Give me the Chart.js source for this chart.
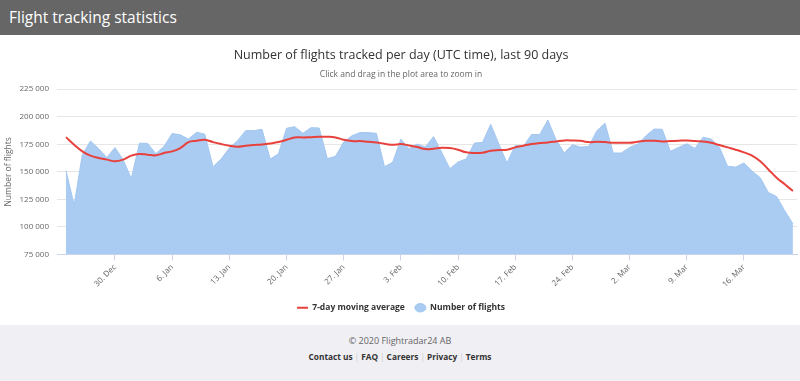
<!DOCTYPE html>
<html>
<head>
<meta charset="utf-8">
<script src="https://cdn.jsdelivr.net/npm/chart.js@4"></script>
<style>
  html, body { margin: 0; padding: 0; background: #fff; font-family: "Open Sans", sans-serif; }
  .header { height: 35px; background: #666666; color: #fff; font-size: 15.5px; line-height: 34px; padding-left: 9px; box-sizing: border-box; }
  .chart-wrap { width: 800px; height: 290px; }
  .footer { height: 56px; background: #f0eff4; text-align: center; font-size: 9px; }
  .footer .copy { color: #666; padding-top: 9px; line-height: 13px; }
  .footer .links { color: #333; font-weight: bold; font-size: 8.3px; line-height: 13px; margin-top: 3px; }
  .footer .sep { color: #ccc; font-weight: normal; margin: 0 2px; }
</style>
</head>
<body>
<div class="header">Flight tracking statistics</div>
<div class="chart-wrap"><canvas id="flights" width="800" height="290"></canvas></div>
<div class="footer">
  <div class="copy">© 2020 Flightradar24 AB</div>
  <div class="links">Contact us<span class="sep">|</span>FAQ<span class="sep">|</span>Careers<span class="sep">|</span>Privacy<span class="sep">|</span>Terms</div>
</div>
<script>
// 90 days, 24. Dec .. 22. Mar (UTC)
const dates = [
  '24. Dec', '25. Dec', '26. Dec', '27. Dec', '28. Dec', '29. Dec', '30. Dec', '31. Dec',
  '1. Jan', '2. Jan', '3. Jan', '4. Jan', '5. Jan', '6. Jan', '7. Jan', '8. Jan', '9. Jan', '10. Jan',
  '11. Jan', '12. Jan', '13. Jan', '14. Jan', '15. Jan', '16. Jan', '17. Jan', '18. Jan', '19. Jan', '20. Jan',
  '21. Jan', '22. Jan', '23. Jan', '24. Jan', '25. Jan', '26. Jan', '27. Jan', '28. Jan', '29. Jan', '30. Jan', '31. Jan',
  '1. Feb', '2. Feb', '3. Feb', '4. Feb', '5. Feb', '6. Feb', '7. Feb', '8. Feb', '9. Feb', '10. Feb',
  '11. Feb', '12. Feb', '13. Feb', '14. Feb', '15. Feb', '16. Feb', '17. Feb', '18. Feb', '19. Feb', '20. Feb',
  '21. Feb', '22. Feb', '23. Feb', '24. Feb', '25. Feb', '26. Feb', '27. Feb', '28. Feb', '29. Feb',
  '1. Mar', '2. Mar', '3. Mar', '4. Mar', '5. Mar', '6. Mar', '7. Mar', '8. Mar', '9. Mar', '10. Mar',
  '11. Mar', '12. Mar', '13. Mar', '14. Mar', '15. Mar', '16. Mar', '17. Mar', '18. Mar', '19. Mar', '20. Mar',
  '21. Mar', '22. Mar'
];

// labelled days on the x axis (Mondays)
const tickDays = ['30. Dec', '6. Jan', '13. Jan', '20. Jan', '27. Jan', '3. Feb', '10. Feb',
  '17. Feb', '24. Feb', '2. Mar', '9. Mar', '16. Mar'];

const flights = [
  151000, 120000, 165600, 178000, 171000, 163000, 172000, 161000, 144000, 176000,
  175800, 166500, 173100, 184800, 183600, 179700, 186000, 184200, 154600, 161700,
  171600, 178200, 187400, 187400, 188600, 161700, 166200, 189500, 191000, 185000,
  190100, 189800, 162000, 164100, 177000, 182700, 185600, 185600, 185000, 154600,
  158700, 179700, 171000, 175200, 172500, 182000, 167700, 152800, 159000, 161700,
  176100, 176700, 193100, 175200, 158100, 174000, 173100, 183900, 183900, 197000,
  179100, 167100, 174600, 172500, 173100, 187400, 194000, 167100, 167100, 172200,
  175200, 182700, 188900, 188600, 168600, 172200, 175500, 171300, 181500, 179700,
  172500, 155100, 154300, 158100, 150700, 144700, 131200, 127600, 114800, 102800
];

const movingAvg = [
  181500, 174600, 168600, 164700, 162600, 161100, 159600, 161100, 164700, 166200,
  165600, 165000, 167100, 168600, 171600, 177000, 178200, 179100, 177000, 175200,
  173700, 172800, 173700, 174300, 174900, 175800, 177000, 179100, 181200, 181200,
  181500, 181800, 181800, 181200, 179100, 177900, 177900, 177300, 176700, 175500,
  174600, 175200, 174000, 172500, 170700, 171000, 171900, 171600, 170100, 167700,
  167100, 167400, 169200, 169800, 170100, 172200, 173700, 175200, 176100, 176700,
  177600, 178500, 178500, 178200, 177000, 177300, 177000, 176400, 176400, 176400,
  177300, 178200, 178200, 177600, 177900, 178200, 178500, 177900, 177600, 176400,
  174300, 172200, 170100, 167700, 164700, 159600, 152200, 144700, 138700, 132700
];

const fmt = v => String(v).replace(/\B(?=(\d{3})+(?!\d))/g, ' ');
const toPoints = arr => arr.map((v, i) => ({ x: i, y: v }));

Chart.defaults.font.family = '"Open Sans", sans-serif';
Chart.defaults.color = '#666666';

new Chart(document.getElementById('flights'), {
  type: 'line',
  data: {
    datasets: [{
      label: '7-day moving average',
      data: toPoints(movingAvg),
      borderColor: '#e8413c',
      backgroundColor: '#e8413c',
      borderWidth: 2,
      pointRadius: 0,
      pointStyle: 'line',
      tension: 0.4,
      order: 0
    }, {
      label: 'Number of flights',
      data: toPoints(flights),
      borderColor: '#a3c7f0',
      backgroundColor: '#aacbf2',
      borderWidth: 1,
      pointRadius: 0,
      pointStyle: 'circle',
      fill: 'start',
      tension: 0,
      order: 1
    }]
  },
  options: {
    responsive: false,
    animation: false,
    // small left padding centres title/legend like the original, y axis width makes up for it
    layout: { padding: { left: 5, right: 3, top: 0, bottom: 3 } },
    scales: {
      x: {
        type: 'linear',
        min: -1.1,
        max: 89.5,
        afterBuildTicks: scale => {
          scale.ticks = tickDays.map(d => ({ value: dates.indexOf(d) }));
        },
        afterFit: scale => { scale.height = 39; },
        ticks: {
          autoSkip: false,
          minRotation: 45,
          maxRotation: 45,
          padding: 2,
          font: { size: 8 },
          color: '#666666',
          callback: value => dates[value]
        },
        grid: {
          drawOnChartArea: false,
          tickLength: 6,
          color: '#ccd6eb'
        },
        border: { color: '#ccd6eb' }
      },
      y: {
        min: 75000,
        max: 225000,
        afterFit: scale => { scale.width = 52; },
        ticks: {
          stepSize: 25000,
          padding: 8,
          font: { size: 8 },
          color: '#666666',
          callback: value => fmt(value)
        },
        grid: { color: '#e6e6e6', drawTicks: false },
        border: { display: false },
        title: {
          display: true,
          text: 'Number of flights',
          font: { size: 8.5 },
          color: '#666666',
          padding: { top: -2, bottom: 0 }
        }
      }
    },
    plugins: {
      title: {
        display: true,
        text: 'Number of flights tracked per day (UTC time), last 90 days',
        font: { size: 12.5, weight: 'normal' },
        color: '#333333',
        padding: { top: 12.5, bottom: 0 }
      },
      subtitle: {
        display: true,
        text: 'Click and drag in the plot area to zoom in',
        font: { size: 8.5 },
        color: '#666666',
        padding: { top: 7, bottom: 9.5 }
      },
      legend: {
        position: 'bottom',
        labels: {
          usePointStyle: true,
          pointStyleWidth: 11,
          boxHeight: 6,
          padding: 10,
          color: '#333333',
          font: { size: 8.5, weight: 'bold' }
        }
      },
      tooltip: { enabled: false }
    }
  }
});
</script>
</body>
</html>
